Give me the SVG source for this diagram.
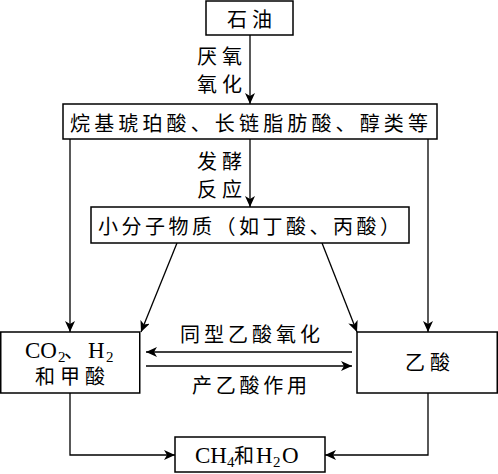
<svg xmlns="http://www.w3.org/2000/svg" width="498" height="474" viewBox="0 0 498 474">
<defs>
<marker id="ah" markerUnits="userSpaceOnUse" markerWidth="12" markerHeight="10" refX="11" refY="5" orient="auto">
<path d="M0,0 L11,5 L0,10 L3,5 Z" fill="#000"/>
</marker>
<style>
.box{fill:#fff;stroke:#000;stroke-width:1.5}
.ln{fill:none;stroke:#000;stroke-width:1.3}
.ar{marker-end:url(#ah)}
text{font-family:"Liberation Serif","Noto Sans CJK SC",serif;font-size:20px;fill:#000}
.lat{font-size:23px}
.sub{font-size:15px}
</style>
</defs>
<rect width="498" height="474" fill="#fff"/>
<g id="connectors">
<line class="ln ar" x1="250" y1="35" x2="250" y2="104"/>
<line class="ln ar" x1="70" y1="139" x2="70" y2="332"/>
<line class="ln ar" x1="428" y1="139" x2="428" y2="332"/>
<line class="ln ar" x1="250" y1="139" x2="250" y2="207"/>
<line class="ln ar" x1="177" y1="243" x2="141" y2="332"/>
<line class="ln ar" x1="322" y1="243" x2="357" y2="332"/>
<line class="ln ar" x1="352" y1="352" x2="146" y2="352"/>
<line class="ln ar" x1="146" y1="366" x2="352" y2="366"/>
<polyline class="ln ar" points="70,393 70,455 175,455"/>
<polyline class="ln ar" points="428,393 428,455 325,455"/>
<text x="197" y="64" textLength="45" lengthAdjust="spacing">厌氧</text>
<text x="197" y="92" textLength="45" lengthAdjust="spacing">氧化</text>
<text x="197" y="169" textLength="45" lengthAdjust="spacing">发酵</text>
<text x="197" y="197" textLength="45" lengthAdjust="spacing">反应</text>
<text x="180" y="342" textLength="140" lengthAdjust="spacing">同型乙酸氧化</text>
<text x="192" y="393" textLength="115" lengthAdjust="spacing">产乙酸作用</text>
</g>
<g id="n1">
<rect class="box" x="206" y="1" width="87" height="34"/>
<text x="227" y="27" textLength="45" lengthAdjust="spacing">石油</text>
</g>
<g id="n2">
<rect class="box" x="63" y="104" width="374" height="35"/>
<text x="70" y="131" textLength="358" lengthAdjust="spacing">烷基琥珀酸、长链脂肪酸、醇类等</text>
</g>
<g id="n3">
<rect class="box" x="91" y="207" width="318" height="36"/>
<text x="98" y="234" textLength="302" lengthAdjust="spacing">小分子物质（如丁酸、丙酸）</text>
</g>
<g id="n4">
<rect class="box" x="0.75" y="332" width="139" height="61"/>
<text class="lat" y="358"><tspan x="25">CO</tspan><tspan class="sub" x="58" dy="4">2</tspan><tspan x="64" dy="-4" font-size="20">、</tspan><tspan x="88">H</tspan><tspan class="sub" x="106" dy="4">2</tspan></text>
<text x="35" y="384" textLength="70" lengthAdjust="spacing">和甲酸</text>
</g>
<g id="n5">
<rect class="box" x="357" y="332" width="140.25" height="61"/>
<text x="405" y="370" textLength="45" lengthAdjust="spacing">乙酸</text>
</g>
<g id="n6">
<rect class="box" x="175" y="437" width="150" height="35"/>
<text class="lat" y="463"><tspan x="195">CH</tspan><tspan class="sub" x="227" dy="4">4</tspan><tspan x="234" dy="-4" font-size="20">和</tspan><tspan x="256">H</tspan><tspan class="sub" x="273" dy="4">2</tspan><tspan x="282" dy="-4">O</tspan></text>
</g>
</svg>
